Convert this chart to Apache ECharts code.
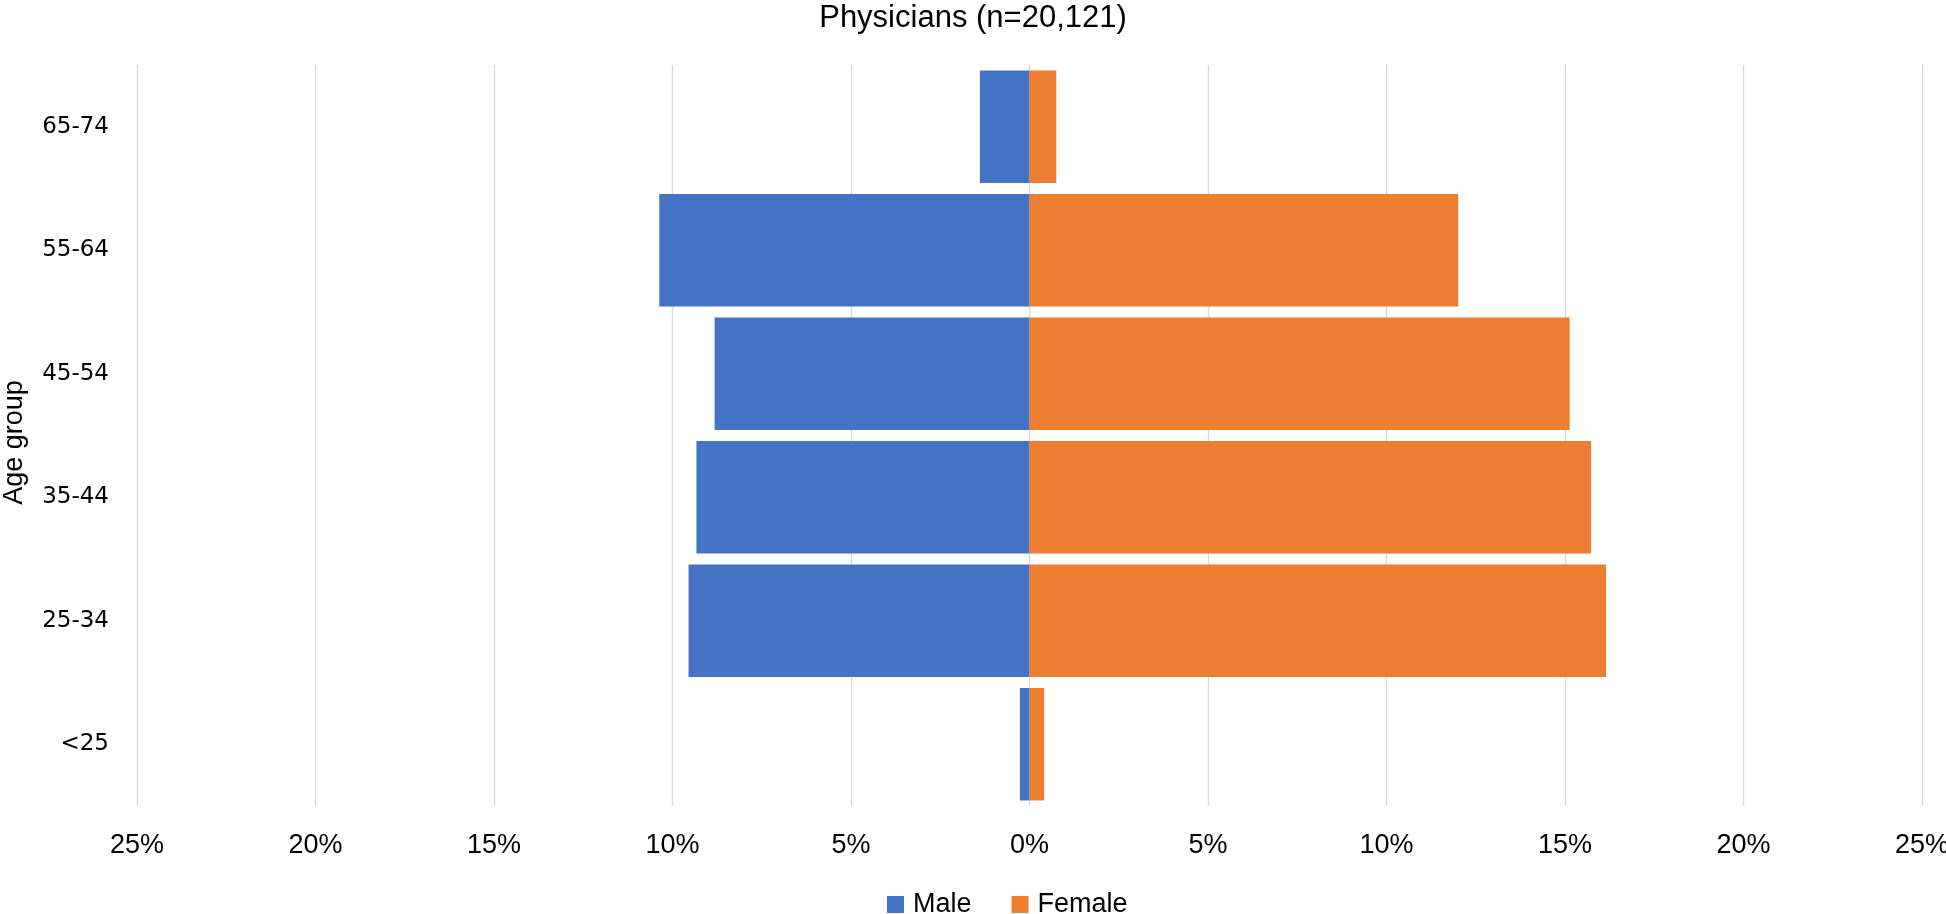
<!DOCTYPE html>
<html>
<head>
<meta charset="utf-8">
<script src="https://cdn.jsdelivr.net/npm/echarts@6/dist/echarts.min.js"></script>
<style>
html,body{margin:0;padding:0;background:#fff;}
#chart{width:1946px;height:914px;}
</style>
</head>
<body>
<div id="chart"></div>
<script>
const ageGroups = ['<25', '25-34', '35-44', '45-54', '55-64', '65-74'];
const malePct = [0.27, 9.55, 9.33, 8.82, 10.37, 1.39];
const femalePct = [0.41, 16.15, 15.73, 15.13, 12.01, 0.75];
const xTicks = [-25, -20, -15, -10, -5, 0, 5, 10, 15, 20, 25];

const mainFont = 'Liberation Sans, Arial, sans-serif';
const chart = echarts.init(document.getElementById('chart'));
chart.setOption({
  animation: false,
  backgroundColor: '#ffffff',
  title: {
    text: 'Physicians (n=20,121)',
    left: 'center',
    top: 3,
    padding: 0,
    textStyle: { fontFamily: mainFont, fontSize: 31, fontWeight: 'normal', color: '#000' }
  },
  legend: {
    left: 887,
    top: 891,
    padding: 0,
    itemWidth: 17,
    itemHeight: 17,
    itemGap: 40,
    icon: 'rect',
    textStyle: { fontFamily: mainFont, fontSize: 27, color: '#000', padding: [0, 0, 0, 4] },
    data: ['Male', 'Female']
  },
  grid: { left: 137, right: 24, top: 65, bottom: 108, containLabel: false, outerBoundsMode: 'none' },
  xAxis: {
    type: 'value',
    min: xTicks[0],
    max: xTicks[xTicks.length - 1],
    interval: 5,
    axisLine: { show: false },
    axisTick: { show: false },
    splitLine: { show: true, lineStyle: { color: '#d9d9d9', width: 1.3 } },
    axisLabel: {
      margin: 26,
      fontFamily: mainFont,
      fontSize: 27,
      color: '#000',
      formatter: v => Math.abs(v) + '%'
    }
  },
  yAxis: {
    type: 'category',
    data: ageGroups,
    name: 'Age group',
    nameLocation: 'middle',
    nameRotate: 90,
    nameGap: 109,
    nameTextStyle: { fontFamily: mainFont, fontSize: 27, color: '#000', padding: [0, 14, 0, 0] },
    axisLine: { show: false, onZero: false },
    axisTick: { show: false },
    axisLabel: { margin: 28, fontFamily: 'DejaVu Sans, sans-serif', fontSize: 23, color: '#000' }
  },
  series: [
    {
      name: 'Male',
      type: 'bar',
      stack: 'pyramid',
      barCategoryGap: '9%',
      itemStyle: { color: '#4472C4' },
      data: malePct.map(v => -v)
    },
    {
      name: 'Female',
      type: 'bar',
      stack: 'pyramid',
      barCategoryGap: '9%',
      itemStyle: { color: '#ED7D31' },
      data: femalePct
    }
  ]
});
</script>
</body>
</html>
